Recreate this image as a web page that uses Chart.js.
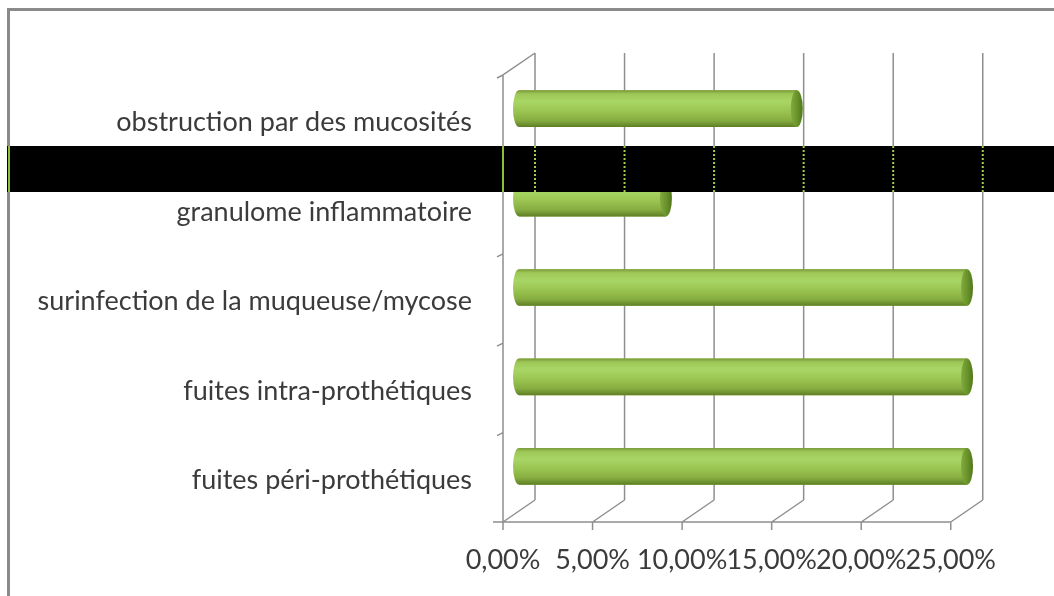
<!DOCTYPE html>
<html>
<head>
<meta charset="utf-8">
<script src="https://cdn.jsdelivr.net/npm/chart.js@4.4.1/dist/chart.umd.min.js"></script>
<style>
  html, body { margin: 0; padding: 0; background: #fff; overflow: hidden; }
  #wrap { position: relative; width: 1054px; height: 596px; }
</style>
</head>
<body>
<div id="wrap"><canvas id="chart"></canvas></div>
<script>
// categories top -> bottom, values in percent
const categories = [
  "obstruction par des mucosités",
  "granulome inflammatoire",
  "surinfection de la muqueuse/mycose",
  "fuites intra-prothétiques",
  "fuites péri-prothétiques",
];
const values = [15.5, 8.2, 25, 25, 25];
const xTicks = [0, 5, 10, 15, 20, 25];

const FONT = "Lato, 'Open Sans', sans-serif";
const TEXT = "#3b3b3b";
const LINE = "#8f8f8f";
// oblique depth of the 3D box, half each side of the bar plane
const DEPTH = { dx: 16, dy: 11 };

const fmtPct = (v) => v.toFixed(2).replace(".", ",") + "%";

// front/back walls, floor, gridlines
const frame3d = {
  id: "frame3d",
  beforeDraw(chart) {
    const { ctx } = chart;
    ctx.save();
    ctx.fillStyle = "#fff";
    ctx.fillRect(0, 0, chart.width, chart.height);
    ctx.fillStyle = "#8a8a8a";
    ctx.fillRect(7, 8, chart.width, 3);
    ctx.fillRect(7, 8, 3, chart.height);
    ctx.restore();
  },
  beforeDatasetsDraw(chart) {
    const { ctx } = chart;
    const x = chart.scales.x;
    const y = chart.scales.y;
    const top = y.top, bot = y.bottom;
    const f = (v) => x.getPixelForValue(v);
    ctx.save();
    ctx.strokeStyle = LINE;
    ctx.lineWidth = 1.5;
    ctx.beginPath();
    xTicks.forEach((v) => {
      const xb = f(v) + 2 * DEPTH.dx;
      // back gridline
      ctx.moveTo(xb, top - DEPTH.dy);
      ctx.lineTo(xb, bot - DEPTH.dy);
      // floor diagonal
      ctx.moveTo(xb, bot - DEPTH.dy);
      ctx.lineTo(f(v), bot + DEPTH.dy);
      // tick mark
      ctx.moveTo(f(v), bot + DEPTH.dy);
      ctx.lineTo(f(v), bot + DEPTH.dy + 8);
    });
    // front axis line
    ctx.moveTo(f(0) - 10, bot + DEPTH.dy);
    ctx.lineTo(f(xTicks[xTicks.length - 1]), bot + DEPTH.dy);
    // left wall front edge + top diagonal
    ctx.moveTo(f(0), bot + DEPTH.dy);
    ctx.lineTo(f(0), top + DEPTH.dy);
    ctx.lineTo(f(0) + 2 * DEPTH.dx, top - DEPTH.dy);
    // category ticks on the left wall
    const n = categories.length;
    for (let i = 0; i < n; i++) {
      const yb = top + (i * (bot - top)) / n + DEPTH.dy;
      ctx.moveTo(f(0), yb);
      ctx.lineTo(f(0) - 6, yb + 3);
    }
    ctx.stroke();
    ctx.restore();
  },
};

// cylinder look on top of the library bars
const cylinders = {
  id: "cylinders",
  afterDatasetsDraw(chart) {
    const { ctx } = chart;
    const meta = chart.getDatasetMeta(0);
    ctx.save();
    meta.data.forEach((bar) => {
      const { x, y, base, height } = bar.getProps(["x", "y", "base", "height"], true);
      const h = height / 2;
      const rx = 6;
      const g = ctx.createLinearGradient(0, y - h, 0, y + h);
      g.addColorStop(0, "#7a9a3a");
      g.addColorStop(0.1, "#9ec757");
      g.addColorStop(0.3, "#a8d666");
      g.addColorStop(0.55, "#9cc653");
      g.addColorStop(0.82, "#86ad40");
      g.addColorStop(1, "#5f7e25");
      ctx.beginPath();
      ctx.moveTo(base, y - h);
      ctx.lineTo(x, y - h);
      ctx.lineTo(x, y + h);
      ctx.lineTo(base, y + h);
      ctx.ellipse(base, y, rx, h, 0, Math.PI / 2, (3 * Math.PI) / 2);
      ctx.closePath();
      ctx.fillStyle = g;
      ctx.fill();
      const gc = ctx.createLinearGradient(x - rx, 0, x + rx, 0);
      gc.addColorStop(0, "#82a93f");
      gc.addColorStop(0.5, "#6a952b");
      gc.addColorStop(1, "#52761c");
      ctx.beginPath();
      ctx.ellipse(x, y, rx, h, 0, 0, Math.PI * 2);
      ctx.fillStyle = gc;
      ctx.fill();
    });
    ctx.restore();
  },
};

// black strip across the picture
const strip = {
  id: "strip",
  afterDraw(chart) {
    const { ctx } = chart;
    const x = chart.scales.x;
    ctx.save();
    ctx.fillStyle = "#000";
    ctx.fillRect(7, 146, chart.width, 46);
    ctx.fillStyle = "#8cbf3a";
    ctx.fillRect(8, 146, 2, 46);
    ctx.fillRect(x.getPixelForValue(0) - 1, 146, 2, 46);
    ctx.strokeStyle = "#a4cc4c";
    ctx.lineWidth = 2;
    ctx.setLineDash([2, 2]);
    ctx.beginPath();
    xTicks.forEach((v) => {
      const xb = x.getPixelForValue(v) + 2 * DEPTH.dx;
      ctx.moveTo(xb, 146);
      ctx.lineTo(xb, 192);
    });
    ctx.stroke();
    ctx.restore();
  },
};

new Chart(document.getElementById("chart"), {
  type: "bar",
  data: {
    labels: categories,
    datasets: [{
      data: values,
      xAxisID: "xBar",
      backgroundColor: "#9ac652",
      borderWidth: 0,
      categoryPercentage: 1,
      barPercentage: 0.41,
    }],
  },
  options: {
    indexAxis: "y",
    responsive: true,
    maintainAspectRatio: false,
    animation: false,
    layout: { padding: { top: 64, right: 71, bottom: 0, left: 0 } },
    scales: {
      x: {
        position: "bottom",
        min: 0,
        max: 26.8,
        afterBuildTicks(scale) { scale.ticks = xTicks.map((v) => ({ value: v })); },
        afterFit(scale) { scale.height = 85; },
        grid: { display: false, drawTicks: false },
        border: { display: false },
        ticks: {
          autoSkip: false,
          maxRotation: 0,
          padding: 33,
          color: TEXT,
          font: { family: FONT, size: 27 },
          callback: (v) => fmtPct(v),
        },
      },
      xBar: {
        display: false,
        min: -0.893,
        max: 25.89,
      },
      y: {
        offset: true,
        afterFit(scale) { scale.width = 503; },
        grid: { display: false, drawTicks: false },
        border: { display: false },
        ticks: {
          padding: 31,
          labelOffset: 14,
          color: TEXT,
          font: { family: FONT, size: 27 },
        },
      },
    },
    plugins: { legend: { display: false }, tooltip: { enabled: false } },
  },
  plugins: [frame3d, cylinders, strip],
});
</script>
</body>
</html>
